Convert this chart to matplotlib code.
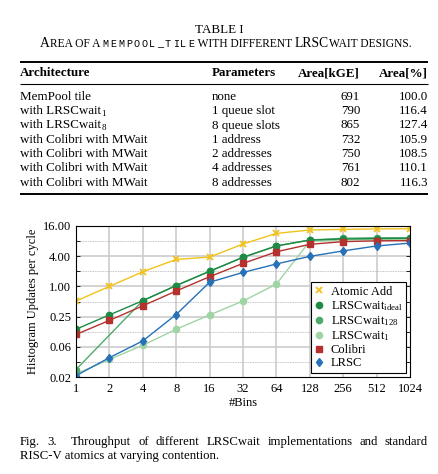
import matplotlib
matplotlib.use('Agg')
import matplotlib.pyplot as plt
from matplotlib.lines import Line2D
from matplotlib.ticker import NullFormatter

plt.rcParams['font.family'] = ['Liberation Serif', 'DejaVu Serif']
plt.rcParams['mathtext.fontset'] = 'custom'
plt.rcParams['mathtext.rm'] = 'Liberation Serif'
plt.rcParams['mathtext.it'] = 'Liberation Serif:italic'

W, H = 438, 474

# ---- table data ----
table_cols = ['Architecture', 'Parameters', 'Area[kGE]', 'Area[%]']
architectures = ['MemPool tile', 'with LRSCwait', 'with LRSCwait',
                 'with Colibri with MWait', 'with Colibri with MWait',
                 'with Colibri with MWait', 'with Colibri with MWait']
arch_subscripts = ['', '1', '8', '', '', '', '']
parameters = ['none', '1 queue slot', '8 queue slots', '1 address',
              '2 addresses', '4 addresses', '8 addresses']
area_kge = [691, 790, 865, 732, 750, 761, 802]
area_pct = [100.0, 116.4, 127.4, 105.9, 108.5, 110.1, 116.3]

# ---- chart data ----
bins = [1, 2, 4, 8, 16, 32, 64, 128, 256, 512, 1024]
bins_128 = [1, 4, 8, 16, 32, 64, 128, 256, 512, 1024]
atomic_add = [0.51, 1.0, 1.96, 3.45, 3.84, 7.0, 11.4, 13.3, 13.7, 14.0, 14.1]
lrscwait_ideal = [0.14, 0.27, 0.52, 1.04, 2.0, 3.8, 6.4, 8.4, 8.8, 9.0, 9.1]
lrscwait_128 = [0.022, 0.52, 1.04, 2.0, 3.8, 6.4, 8.4, 9.1, 9.3, 9.3]
lrscwait_1 = [0.018, 0.035, 0.067, 0.14, 0.27, 0.51, 1.11, 8.0, 8.4, 8.6, 8.8]
colibri = [0.11, 0.21, 0.41, 0.81, 1.56, 2.87, 4.9, 6.9, 7.8, 8.1, 8.2]
lrsc = [0.0166, 0.038, 0.082, 0.275, 1.21, 1.9, 2.8, 3.97, 5.1, 6.4, 7.3]

fig = plt.figure(figsize=(W / 100, H / 100), dpi=100)
bg = fig.add_axes([0, 0, 1, 1])
bg.axis('off')
bg.set_xlim(0, W)
bg.set_ylim(H, 0)

fs = 9.4
renderer = fig.canvas.get_renderer()


def width_of(t):
    return t.get_window_extent(renderer).width


# ---- table ----
bg.text(219, 30, 'TABLE I', ha='center', va='center', fontsize=fs)
x = 40
for s, size in [('A', 9.8), ('REA OF A ', 8.3)]:
    t = bg.text(x, 47, s, ha='left', va='baseline', fontsize=size)
    x += width_of(t)
x = 102
for ch in 'MEMPOOL_TILE':
    bg.text(x + 3.9, 47, ch, ha='center', va='baseline', fontsize=7.3,
            family='Liberation Mono')
    x += 7.75
for s, size in [(' WITH DIFFERENT ', 8.3), ('LRSC', 9.8), ('WAIT DESIGNS.', 8.3)]:
    t = bg.text(x, 47, s, ha='left', va='baseline', fontsize=size)
    x += width_of(t)

for yy, lw in [(62, 1.4), (84, 0.8), (194, 1.4)]:
    bg.plot([20, 428], [yy, yy], color='black', lw=lw, solid_capstyle='butt')

bg.text(20, 73, table_cols[0], ha='left', va='center', fontsize=fs, weight='bold')
bg.text(212, 73, table_cols[1], ha='left', va='center', fontsize=fs, weight='bold')
bg.text(360, 73, table_cols[2], ha='right', va='center', fontsize=fs, weight='bold')
bg.text(428, 73, table_cols[3], ha='right', va='center', fontsize=fs, weight='bold')

for i in range(len(architectures)):
    yy = 100 + i * 14.25
    t = bg.text(20, yy, architectures[i], ha='left', va='baseline', fontsize=fs)
    if arch_subscripts[i]:
        bg.text(20 + width_of(t) + 0.5, yy + 2, arch_subscripts[i], ha='left',
                va='baseline', fontsize=6.5)
    bg.text(212, yy, parameters[i], ha='left', va='baseline', fontsize=fs)
    bg.text(360, yy, str(area_kge[i]), ha='right', va='baseline', fontsize=fs)
    bg.text(428, yy, '%.1f' % area_pct[i], ha='right', va='baseline', fontsize=fs)

# ---- chart ----
cfs = 9.0
ax = fig.add_axes([76 / W, 1 - 377 / H, (410 - 76) / W, (377 - 226) / H])
ax.set_xscale('log', base=2)
ax.set_yscale('log', base=2)

c_add = '#f2c21b'
c_ideal = '#1e8a45'
c_128 = '#4daa6c'
c_1 = '#9fd4a4'
c_col = '#b5312e'
c_lrsc = '#2671b8'

ax.plot(bins, atomic_add, color=c_add, marker='x', ms=4, mew=1.3, lw=1)
ax.plot(bins, lrscwait_1, color=c_1, marker='o', ms=4.5, lw=1)
ax.plot(bins_128, lrscwait_128, color=c_128, marker='o', ms=4.5, lw=1)
ax.plot(bins, lrscwait_ideal, color=c_ideal, marker='o', ms=4.5, lw=1)
ax.plot(bins, colibri, color=c_col, marker='s', ms=4.5, lw=1)
ax.plot(bins, lrsc, color=c_lrsc, marker='d', ms=4.5, lw=1)

ax.set_xlim(1, 1024)
ax.set_ylim(2 ** -6, 16)
ax.set_xticks(bins)
ax.set_xticklabels([str(b) for b in bins])
yt = [2 ** -6, 2 ** -4, 2 ** -2, 1, 4, 16]
ax.set_yticks(yt)
ax.set_yticklabels(['0.02', '0.06', '0.25', '1.00', '4.00', '16.00'])
ax.set_yticks([2.0 ** k for k in range(-5, 5, 2)], minor=True)
ax.yaxis.set_minor_formatter(NullFormatter())
ax.xaxis.set_minor_locator(plt.NullLocator())
ax.tick_params(which='both', direction='in', left=True, right=True, top=False,
               bottom=False, labelsize=cfs, length=3, width=0.6)
ax.tick_params(axis='x', pad=4)

for b in bins[1:-1]:
    ax.axvline(b, color='#cccccc', lw=1.2, zorder=0)
for v in yt[1:-1]:
    ax.axhline(v, color='#cccccc', lw=1.2, zorder=0)
for k in range(-5, 5, 2):
    ax.axhline(2.0 ** k, color='#b0b0b0', lw=0.6, ls=(0, (1, 1)), zorder=0)
for sp in ax.spines.values():
    sp.set_linewidth(0.8)

ax.set_xlabel('#Bins', fontsize=cfs, labelpad=2)
ax.set_ylabel('Histogram Updates per cycle', fontsize=cfs, labelpad=3)

handles = [
    Line2D([], [], ls='none', marker='x', color=c_add, ms=4, mew=1.3),
    Line2D([], [], ls='none', marker='o', color=c_ideal, ms=4.5),
    Line2D([], [], ls='none', marker='o', color=c_128, ms=4.5),
    Line2D([], [], ls='none', marker='o', color=c_1, ms=4.5),
    Line2D([], [], ls='none', marker='s', color=c_col, ms=4.5),
    Line2D([], [], ls='none', marker='d', color=c_lrsc, ms=4.5),
]
labels = ['Atomic Add', r'LRSCwait$_\mathrm{ideal}$', r'LRSCwait$_\mathrm{128}$',
          r'LRSCwait$_\mathrm{1}$', 'Colibri', 'LRSC']
leg = ax.legend(handles, labels, loc='lower right', fontsize=cfs, frameon=True,
                fancybox=False, edgecolor='black', framealpha=1, borderpad=0.3,
                handlelength=0.8, handletextpad=0.5, labelspacing=0.1,
                borderaxespad=0.3)
leg.get_frame().set_linewidth(0.8)

# ---- caption ----
cap_fs = 9.2
line1 = ['Fig.', '3.', 'Throughput', 'of', 'different', 'LRSCwait', 'implementations',
         'and', 'standard']
texts = [bg.text(0, 445, w, ha='left', va='baseline', fontsize=cap_fs) for w in line1]
widths = [width_of(t) for t in texts]
gap = (428 - 20 - sum(widths)) / len(widths)
x = 20
for i, t in enumerate(texts):
    t.set_x(x)
    x += widths[i] + gap + (gap if i == 1 else 0)
bg.text(20, 459, 'RISC-V atomics at varying contention.', ha='left', va='baseline',
        fontsize=cap_fs)

fig.savefig('out.png', dpi=100)
